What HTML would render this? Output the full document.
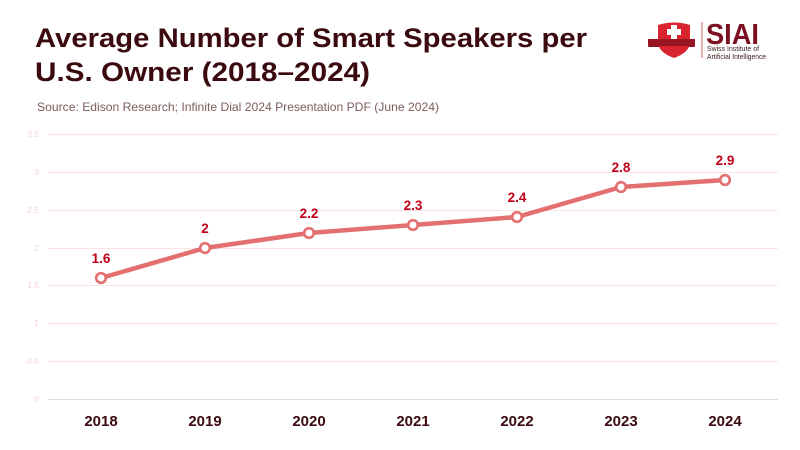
<!DOCTYPE html>
<html><head><meta charset="utf-8"><style>
html,body{margin:0;padding:0;background:#fff;}
svg{display:block;}
</style></head><body>
<svg width="800" height="450" viewBox="0 0 800 450" xmlns="http://www.w3.org/2000/svg" font-family="'Liberation Sans', sans-serif">
<rect width="800" height="450" fill="#fff"/>
<!-- Title -->
<text x="35" y="47" font-size="27" font-weight="bold" fill="#3b0a0f" textLength="552" lengthAdjust="spacingAndGlyphs">Average Number of Smart Speakers per</text>
<text x="35" y="81" font-size="27" font-weight="bold" fill="#3b0a0f" textLength="335" lengthAdjust="spacingAndGlyphs">U.S. Owner (2018–2024)</text>
<text x="37" y="111" font-size="12" fill="#7d5c5c" textLength="402" lengthAdjust="spacingAndGlyphs">Source: Edison Research; Infinite Dial 2024 Presentation PDF (June 2024)</text>
<!-- Logo -->
<path d="M648 39 L695 39 L692 43 L695 47 L648 47 L651 43 Z" fill="#8a1020"/>
<path d="M658 25 Q674 20 690 25 L690 44 Q688 53 674 58 Q660 53 658 44 Z" fill="#d9232e"/>
<rect x="648" y="39" width="47" height="7" fill="#9a1523"/>
<rect x="671" y="25" width="6" height="14" fill="#fff"/>
<rect x="667" y="29" width="14" height="6" fill="#fff"/>
<rect x="701.5" y="22" width="1" height="36" fill="#c0606a"/>
<text x="706" y="44" font-size="29" font-weight="bold" fill="#7a1020" textLength="53" lengthAdjust="spacingAndGlyphs">SIAI</text>
<text x="707" y="51" font-size="7.5" fill="#3a1a1a" textLength="52" lengthAdjust="spacingAndGlyphs">Swiss Institute of</text>
<text x="707" y="59" font-size="7.5" fill="#3a1a1a" textLength="59" lengthAdjust="spacingAndGlyphs">Artificial Intelligence</text>
<!-- Grid -->
<g stroke="#fbe3e4" stroke-width="1">
<line x1="48" x2="778" y1="134.5" y2="134.5"/>
<line x1="48" x2="778" y1="172.5" y2="172.5"/>
<line x1="48" x2="778" y1="210.5" y2="210.5"/>
<line x1="48" x2="778" y1="248.5" y2="248.5"/>
<line x1="48" x2="778" y1="285.5" y2="285.5"/>
<line x1="48" x2="778" y1="323.5" y2="323.5"/>
<line x1="48" x2="778" y1="361.5" y2="361.5"/>
</g>
<line x1="48" x2="778" y1="399.5" y2="399.5" stroke="#dcdcdc" stroke-width="1"/>
<g font-size="8.5" fill="#f6d3d5" text-anchor="end">
<text x="39" y="137">3.5</text>
<text x="39" y="175">3</text>
<text x="39" y="213">2.5</text>
<text x="39" y="251">2</text>
<text x="39" y="288">1.5</text>
<text x="39" y="326">1</text>
<text x="39" y="364">0.5</text>
<text x="39" y="402">0</text>
</g>
<!-- Line -->
<polyline points="101,278 205,248 309,233 413,225 517,217 621,187 725,180" fill="none" stroke="#e46f6f" stroke-width="4.5" stroke-linejoin="round" stroke-linecap="round"/>
<g fill="#fff" stroke="#e46f6f" stroke-width="2.6">
<circle cx="101" cy="278" r="4.8"/>
<circle cx="205" cy="248" r="4.8"/>
<circle cx="309" cy="233" r="4.8"/>
<circle cx="413" cy="225" r="4.8"/>
<circle cx="517" cy="217" r="4.8"/>
<circle cx="621" cy="187" r="4.8"/>
<circle cx="725" cy="180" r="4.8"/>
</g>
<g font-size="13.5" font-weight="bold" fill="#c00018" text-anchor="middle">
<text x="101" y="263">1.6</text>
<text x="205" y="233">2</text>
<text x="309" y="218">2.2</text>
<text x="413" y="210">2.3</text>
<text x="517" y="202">2.4</text>
<text x="621" y="172">2.8</text>
<text x="725" y="165">2.9</text>
</g>
<g font-size="15" font-weight="bold" fill="#3a0a0f" text-anchor="middle">
<text x="101" y="426">2018</text>
<text x="205" y="426">2019</text>
<text x="309" y="426">2020</text>
<text x="413" y="426">2021</text>
<text x="517" y="426">2022</text>
<text x="621" y="426">2023</text>
<text x="725" y="426">2024</text>
</g>
</svg>
</body></html>
